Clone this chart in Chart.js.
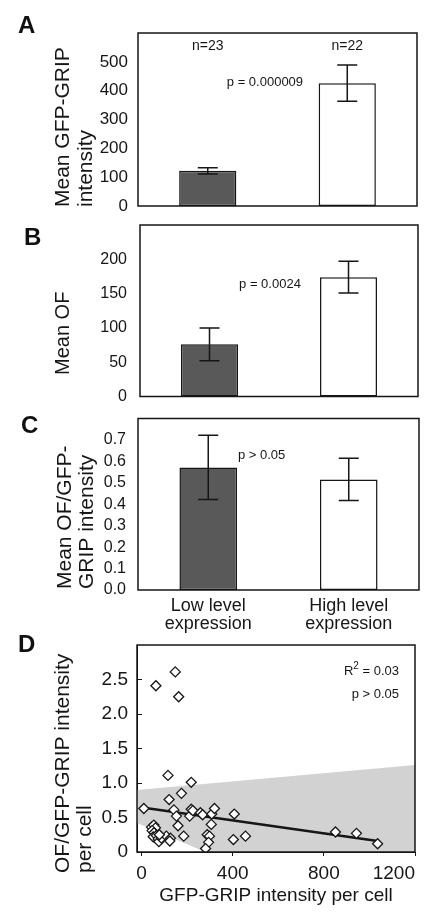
<!DOCTYPE html>
<html>
<head>
<meta charset="utf-8">
<script src="https://cdn.jsdelivr.net/npm/chart.js@4.4.1/dist/chart.umd.min.js"></script>
<style>
  body { margin: 0; background: #fff; }
  #page { position: relative; width: 433px; height: 916px; overflow: hidden; font-family: 'Liberation Sans', Arial, sans-serif; }
  .panel { position: absolute; left: 0; width: 433px; }
  .tag { position: absolute; font-weight: bold; font-size: 24px; line-height: 24px; color: #111; z-index: 2; }
</style>
</head>
<body>
<div id="page">
  <div class="tag" style="left:18px;top:13px">A</div>
  <div class="tag" style="left:24px;top:225px">B</div>
  <div class="tag" style="left:21px;top:413px">C</div>
  <div class="tag" style="left:18px;top:632px">D</div>
  <div class="panel" style="top:0;height:220px"><canvas id="panelA"></canvas></div>
  <div class="panel" style="top:215px;height:195px"><canvas id="panelB"></canvas></div>
  <div class="panel" style="top:410px;height:225px"><canvas id="panelC"></canvas></div>
  <div class="panel" style="top:635px;height:281px"><canvas id="panelD"></canvas></div>
</div>
<script>
const family = "'Liberation Sans', Arial, sans-serif";
const ink = '#161616';

// bar panels A-C
const categories = [['Low level', 'expression'], ['High level', 'expression']];
const gripMean = [122, 426];
const gripErr = [11, 63];
const gripTicks = [0, 100, 200, 300, 400, 500];
const ofMean = [76, 174];
const ofErr = [24, 23];
const ofTicks = [0, 50, 100, 150, 200];
const ratioMean = [0.572, 0.516];
const ratioErr = [0.15, 0.099];
const ratioTicks = [0, 0.1, 0.2, 0.3, 0.4, 0.5, 0.6, 0.7];

// scatter panel D (one pair per cell)
const cellGrip = [10, 63, 148, 163, 116, 218, 121, 175, 142, 153, 160, 185, 211, 218, 225,
  258, 268, 308, 320, 306, 288, 298, 294, 281, 407, 403, 456, 851, 943, 1036,
  44, 54, 61, 46, 55, 51, 65, 73, 76, 87, 109, 127, 124, 78];
const cellRatio = [0.63, 2.41, 2.61, 2.25, 1.11, 1.01, 0.76, 0.85, 0.61, 0.52, 0.38, 0.23, 0.52, 0.62, 0.60,
  0.57, 0.54, 0.55, 0.63, 0.40, 0.25, 0.23, 0.14, 0.05, 0.55, 0.18, 0.23, 0.29, 0.27, 0.12,
  0.36, 0.39, 0.35, 0.31, 0.28, 0.22, 0.24, 0.19, 0.15, 0.20, 0.23, 0.20, 0.16, 0.25];
const fitGrip = [10, 1036];
const fitRatio = [0.64, 0.16];
const bandGrip = [-20, -20, 1200, 1200, 280];
const bandRatio = [0.42, 0.90, 1.26, 0, 0];
const cellGripTicks = [-20, 0, 400, 800, 1200];
const cellRatioTicks = [0, 0.5, 1.0, 1.5, 2.0, 2.5];

// axis boxes keep the sizes we give them, no extra label padding
function fixBox(w, h) {
  return s => {
    if (w) s.width = w;
    if (h) s.height = h;
    s.paddingTop = 0; s.paddingBottom = 0;
    s.paddingLeft = 0; s.paddingRight = 0;
  };
}

const frame = {
  id: 'frame',
  afterDraw(chart) {
    const { ctx, chartArea: a } = chart;
    ctx.save();
    ctx.strokeStyle = ink;
    ctx.lineWidth = 1.5;
    ctx.strokeRect(a.left, a.top, a.right - a.left, a.bottom - a.top);
    ctx.restore();
  }
};

const errorBars = {
  id: 'errorBars',
  afterDatasetsDraw(chart, args, opts) {
    if (!opts.errors) return;
    const ctx = chart.ctx;
    const y = chart.scales.y;
    const vals = chart.data.datasets[0].data;
    ctx.save();
    ctx.strokeStyle = ink;
    ctx.lineWidth = 1.5;
    chart.getDatasetMeta(0).data.forEach((bar, i) => {
      const hi = y.getPixelForValue(vals[i] + opts.errors[i]);
      const lo = y.getPixelForValue(vals[i] - opts.errors[i]);
      ctx.beginPath();
      ctx.moveTo(bar.x, hi); ctx.lineTo(bar.x, lo);
      ctx.moveTo(bar.x - 10, hi); ctx.lineTo(bar.x + 10, hi);
      ctx.moveTo(bar.x - 10, lo); ctx.lineTo(bar.x + 10, lo);
      ctx.stroke();
    });
    ctx.restore();
  }
};

const notes = {
  id: 'notes',
  afterDraw(chart, args, opts) {
    if (!opts.items) return;
    const ctx = chart.ctx;
    ctx.save();
    ctx.fillStyle = ink;
    ctx.textBaseline = 'middle';
    opts.items.forEach(n => {
      const x = chart.scales.x.getPixelForValue(n.x);
      const y = chart.scales.y.getPixelForValue(n.y);
      ctx.font = n.size + 'px ' + family;
      if (n.sup) {
        const w1 = ctx.measureText(n.text).width;
        const w3 = ctx.measureText(n.rest).width;
        ctx.font = Math.round(n.size * 0.8) + 'px ' + family;
        const w2 = ctx.measureText(n.sup).width;
        ctx.textAlign = 'left';
        const x0 = x - w1 - w2 - w3;
        ctx.fillText(n.sup, x0 + w1, y - n.size * 0.4);
        ctx.font = n.size + 'px ' + family;
        ctx.fillText(n.text, x0, y);
        ctx.fillText(n.rest, x0 + w1 + w2, y);
      } else {
        ctx.textAlign = n.align || 'center';
        ctx.fillText(n.text, x, y);
      }
    });
    ctx.restore();
  }
};

const sideTitle = {
  id: 'sideTitle',
  afterDraw(chart, args, opts) {
    if (!opts.lines) return;
    const ctx = chart.ctx;
    ctx.save();
    ctx.fillStyle = ink;
    ctx.font = opts.size + 'px ' + family;
    ctx.textAlign = 'left';
    ctx.textBaseline = 'middle';
    opts.lines.forEach((t, i) => {
      ctx.save();
      ctx.translate(opts.x + i * opts.gap, opts.y);
      ctx.rotate(-Math.PI / 2);
      ctx.fillText(t, 0, 0);
      ctx.restore();
    });
    ctx.restore();
  }
};

function barPanel(id, cfg) {
  const xScale = cfg.showCategories ? {
    afterFit: fixBox(0, 45),
    grid: { display: false, drawTicks: false },
    border: { display: false },
    ticks: { color: ink, padding: 7, font: { family, size: 18, lineHeight: 1.0 } }
  } : { display: false };
  return new Chart(document.getElementById(id), {
    type: 'bar',
    data: {
      labels: categories,
      datasets: [{
        data: cfg.values,
        backgroundColor: ['#595959', '#ffffff'],
        borderColor: ink,
        borderWidth: 1.5,
        borderSkipped: false,
        barPercentage: 0.41,
        categoryPercentage: 1
      }]
    },
    options: {
      responsive: true,
      maintainAspectRatio: false,
      animation: false,
      devicePixelRatio: 1,
      layout: { padding: cfg.padding },
      scales: {
        x: xScale,
        y: {
          min: 0,
          max: cfg.max,
          afterFit: fixBox(cfg.axisWidth, 0),
          afterBuildTicks: s => { s.ticks = cfg.ticks.map(v => ({ value: v })); },
          grid: { display: false, drawTicks: false },
          border: { display: false },
          ticks: {
            color: ink,
            padding: cfg.tickPad,
            font: { family, size: cfg.tickSize },
            callback: cfg.decimals ? (v => v.toFixed(cfg.decimals)) : (v => v)
          }
        }
      },
      plugins: {
        legend: { display: false },
        tooltip: { enabled: false },
        errorBars: { errors: cfg.errors },
        notes: { items: cfg.notes },
        sideTitle: cfg.title
      }
    },
    plugins: [frame, errorBars, notes, sideTitle]
  });
}

barPanel('panelA', {
  values: gripMean, errors: gripErr, ticks: gripTicks, max: 600,
  padding: { top: 33, bottom: 14, left: 0, right: 16 },
  axisWidth: 138, tickPad: 10, tickSize: 17,
  notes: [
    { text: 'n=23', x: 0, y: 555, size: 14 },
    { text: 'n=22', x: 1, y: 555, size: 14 },
    { text: 'p = 0.000009', x: 0.41, y: 427, size: 13 }
  ],
  title: { lines: ['Mean GFP-GRIP', 'intensity'], x: 63, gap: 23, y: 207, size: 21 }
});

barPanel('panelB', {
  values: ofMean, errors: ofErr, ticks: ofTicks, max: 250,
  padding: { top: 10, bottom: 13.5, left: 0, right: 15 },
  axisWidth: 140, tickPad: 13, tickSize: 16,
  notes: [{ text: 'p = 0.0024', x: 0.435, y: 163.5, size: 13 }],
  title: { lines: ['Mean OF'], x: 63, gap: 23, y: 160, size: 20 }
});

barPanel('panelC', {
  values: ratioMean, errors: ratioErr, ticks: ratioTicks, max: 0.8, decimals: 1,
  showCategories: true,
  padding: { top: 8.5, bottom: 0, left: 0, right: 14 },
  axisWidth: 138, tickPad: 12, tickSize: 16,
  notes: [{ text: 'p > 0.05', x: 0.38, y: 0.63, size: 13 }],
  title: { lines: ['Mean OF/GFP-', 'GRIP intensity'], x: 65, gap: 22, y: 179, size: 21 }
});

new Chart(document.getElementById('panelD'), {
  type: 'scatter',
  data: {
    datasets: [
      {
        data: cellGrip.map((x, i) => ({ x, y: cellRatio[i] })),
        pointStyle: 'rectRot',
        pointRadius: 5,
        pointBorderWidth: 1.3,
        pointBorderColor: ink,
        pointBackgroundColor: '#ffffff'
      },
      {
        data: fitGrip.map((x, i) => ({ x, y: fitRatio[i] })),
        showLine: true,
        borderColor: ink,
        borderWidth: 2.5,
        pointRadius: 0
      },
      {
        data: bandGrip.map((x, i) => ({ x, y: bandRatio[i] })),
        showLine: true,
        fill: 'shape',
        backgroundColor: '#d2d2d2',
        borderWidth: 0,
        borderColor: 'rgba(0,0,0,0)',
        pointRadius: 0
      }
    ]
  },
  options: {
    responsive: true,
    maintainAspectRatio: false,
    animation: false,
    devicePixelRatio: 1,
    layout: { padding: { top: 10, bottom: 0, left: 0, right: 18 } },
    scales: {
      x: {
        type: 'linear',
        min: -20,
        max: 1200,
        afterFit: fixBox(0, 64),
        afterBuildTicks: s => { s.ticks = cellGripTicks.map(v => ({ value: v })); },
        grid: {
          drawOnChartArea: false,
          tickLength: 4,
          color: ctx => (ctx.tick && ctx.tick.value < 0 ? 'rgba(0,0,0,0)' : ink)
        },
        border: { color: ink },
        ticks: {
          color: ink,
          padding: 6,
          align: 'inner',
          font: { family, size: 19 },
          callback: v => (v < 0 ? '' : v)
        },
        title: {
          display: true,
          text: 'GFP-GRIP intensity per cell',
          color: ink,
          font: { family, size: 19 },
          padding: { top: 0, bottom: 9 }
        }
      },
      y: {
        min: 0,
        max: 3,
        afterFit: fixBox(137, 0),
        afterBuildTicks: s => { s.ticks = cellRatioTicks.map(v => ({ value: v })); },
        grid: { drawOnChartArea: false, tickLength: -5, color: ink },
        border: { color: ink },
        ticks: {
          color: ink,
          padding: 14,
          font: { family, size: 19 },
          callback: v => (v === 0 ? '0' : v.toFixed(1))
        }
      }
    },
    plugins: {
      legend: { display: false },
      tooltip: { enabled: false },
      notes: {
        items: [
          { text: 'R', sup: '2', rest: ' = 0.03', x: 1130, y: 2.61, size: 13 },
          { text: 'p > 0.05', x: 1130, y: 2.28, size: 13, align: 'right' }
        ]
      },
      sideTitle: { lines: ['OF/GFP-GRIP intensity', 'per cell'], x: 63, gap: 22, y: 238, size: 21 }
    }
  },
  plugins: [frame, notes, sideTitle]
});
</script>
</body>
</html>
